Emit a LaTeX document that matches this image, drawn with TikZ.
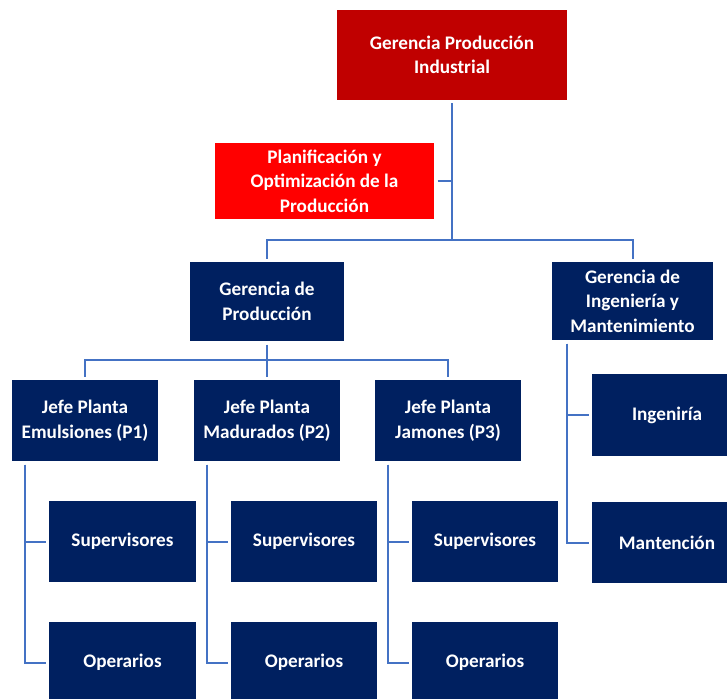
\documentclass[tikz,border=0pt]{standalone}
\usepackage{fontspec}
\setmainfont{Carlito}
\definecolor{darkred}{HTML}{C00000}
\definecolor{brightred}{HTML}{FF0000}
\definecolor{navy}{HTML}{002060}
\definecolor{linkblue}{HTML}{4472C4}
\begin{document}
\begin{tikzpicture}[x=1pt,y=-1pt,
  unit/.style={rectangle, inner sep=0pt, outer sep=3.5pt, text=white, align=center,
    font=\bfseries\fontsize{19.2}{24.5}\selectfont},
  headbox/.style={unit, fill=darkred, minimum width=230pt, minimum height=90pt},
  planbox/.style={unit, fill=brightred, minimum width=219pt, minimum height=76pt},
  navybox/.style={unit, fill=navy, minimum height=80pt},
  link/.style={draw=linkblue, line width=2pt}]
\useasboundingbox (0,0) rectangle (727,698);
\clip (0,0) rectangle (727,698);

% top level
\node[headbox] (top) at (452,55) {Gerencia Producción\\Industrial};
\node[planbox] (plan) at (324.5,181) {Planificación y\\Optimización de la\\Producción};

% second level
\node[navybox, minimum width=154pt, minimum height=79pt] (gp) at (267,301.5) {Gerencia de\\Producción};
\node[navybox, minimum width=161pt, minimum height=78pt] (gi) at (632.5,301) {Gerencia de\\Ingeniería y\\Mantenimiento};

% plant managers
\node[navybox, minimum width=146pt, minimum height=81pt] (j1) at (85,420.5) {Jefe Planta\\Emulsiones (P1)};
\node[navybox, minimum width=146pt, minimum height=81pt] (j2) at (267,420.5) {Jefe Planta\\Madurados (P2)};
\node[navybox, minimum width=146pt, minimum height=81pt] (j3) at (448,420.5) {Jefe Planta\\Jamones (P3)};

% supervisors and operators
\node[navybox, minimum width=147pt, minimum height=81pt] (s1) at (122.5,541.5) {Supervisores};
\node[navybox, minimum width=146pt, minimum height=81pt] (s2) at (304,541.5) {Supervisores};
\node[navybox, minimum width=146pt, minimum height=81pt] (s3) at (485,541.5) {Supervisores};
\node[navybox, minimum width=147pt, minimum height=81pt] (o1) at (122.5,662.5) {Operarios};
\node[navybox, minimum width=146pt, minimum height=81pt] (o2) at (304,662.5) {Operarios};
\node[navybox, minimum width=146pt, minimum height=81pt] (o3) at (485,662.5) {Operarios};

% engineering units
\node[navybox, minimum width=150pt, minimum height=82pt] (ing) at (667,415) {Ingeniría};
\node[navybox, minimum width=150pt, minimum height=81pt] (man) at (667,542.5) {Mantención};

% connectors
\coordinate (bar) at (452,240);
\coordinate (bar2) at (267,360);
\draw[link] (top.south) -- (bar);
\draw[link] (plan.east) -- (plan.east -| bar);
\draw[link] (gp.north) |- (bar) -| (gi.north);
\draw[link] (gp.south) -- (bar2);
\draw[link] (j1.north) |- (bar2) -| (j3.north);
\draw[link] (j2.north) -- (bar2);
\draw[link] ([xshift=-60pt]j1.south) |- (s1.west);
\draw[link] ([xshift=-60pt]j1.south) |- (o1.west);
\draw[link] ([xshift=-60pt]j2.south) |- (s2.west);
\draw[link] ([xshift=-60pt]j2.south) |- (o2.west);
\draw[link] ([xshift=-60pt]j3.south) |- (s3.west);
\draw[link] ([xshift=-60pt]j3.south) |- (o3.west);
\draw[link] ([xshift=-65.5pt]gi.south) |- (ing.west);
\draw[link] ([xshift=-65.5pt]gi.south) |- (man.west);
\end{tikzpicture}
\end{document}
